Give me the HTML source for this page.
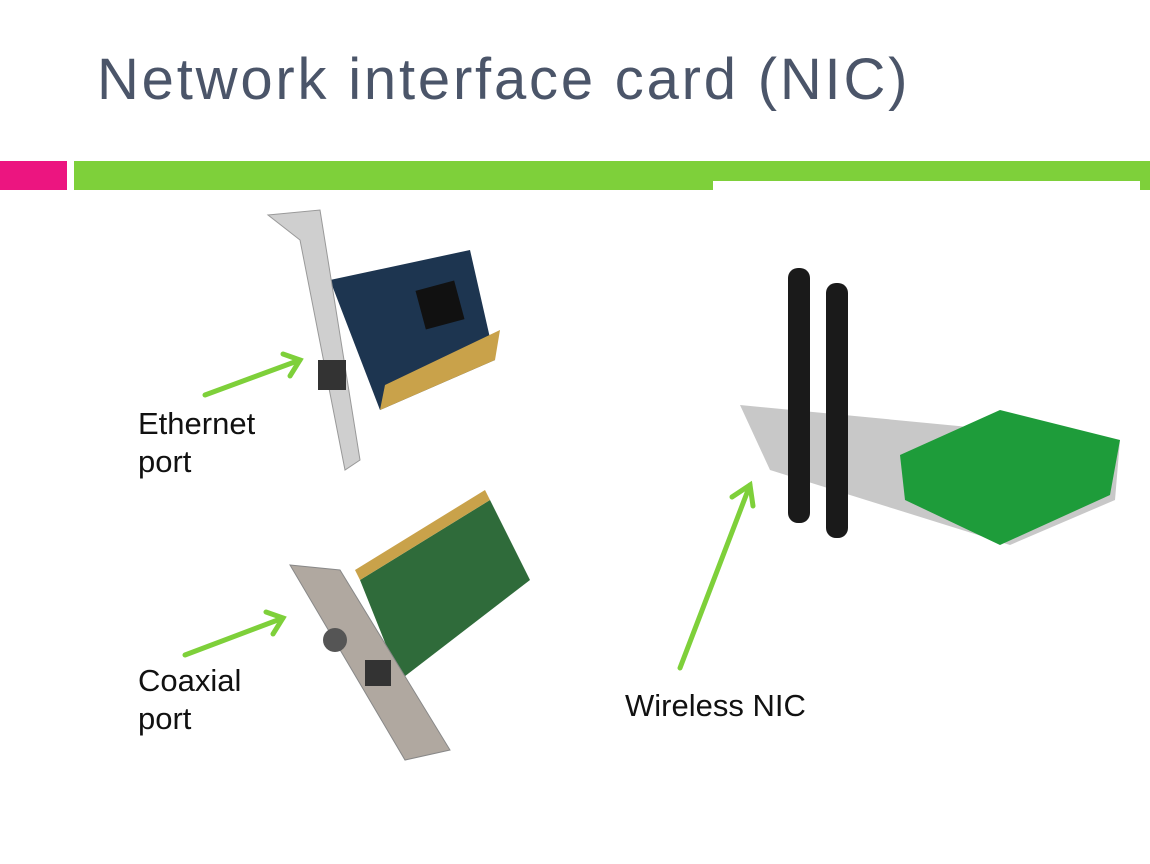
<!DOCTYPE html>
<html><head><style>
body{margin:0;width:1150px;height:864px;background:#fff;overflow:hidden;position:relative;font-family:"Liberation Sans",sans-serif}
.t{position:absolute;left:97px;top:46px;font-size:58px;color:#4b5569;white-space:nowrap;letter-spacing:2.8px}
.l{position:absolute;font-size:31px;color:#111;line-height:38px}
</style></head><body>
<div class="t">Network interface card (NIC)</div>
<svg width="1150" height="864" style="position:absolute;left:0;top:0">
<rect x="0" y="161" width="67" height="29" fill="#ec1580"/>
<rect x="74" y="161" width="1076" height="29" fill="#7ed03a"/>
<rect x="713" y="181" width="427" height="9" fill="#fff"/>
<polygon points="330,280 470,250 495,360 380,410" fill="#1d3550"/>
<polygon points="380,410 495,360 500,330 385,385" fill="#c9a24a"/>
<rect x="420" y="285" width="40" height="40" fill="#111" transform="rotate(-15 440 305)"/>
<polygon points="268,215 320,210 360,460 345,470 300,240" fill="#cfcfcf" stroke="#999"/>
<rect x="318" y="360" width="28" height="30" fill="#333"/>
<polygon points="360,580 490,500 530,580 400,680" fill="#2f6b3a"/>
<polygon points="360,580 490,500 485,490 355,570" fill="#c9a24a"/>
<polygon points="290,565 340,570 450,750 405,760" fill="#b0a8a0" stroke="#888"/>
<circle cx="335" cy="640" r="12" fill="#555"/>
<rect x="365" y="660" width="26" height="26" fill="#333"/>
<polygon points="740,405 1000,430 1120,440 1115,500 1010,545 770,470" fill="#c8c8c8"/>
<polygon points="900,455 1000,410 1120,440 1110,495 1000,545 905,500" fill="#1e9c3a"/>
<rect x="788" y="268" width="22" height="255" rx="10" fill="#1a1a1a"/>
<rect x="826" y="283" width="22" height="255" rx="10" fill="#1a1a1a"/>
<g stroke="#7ed03a" stroke-width="5" fill="none" stroke-linecap="round">
<line x1="205" y1="395" x2="300" y2="360"/><polyline points="283,354 300,360 290,376"/>
<line x1="185" y1="655" x2="283" y2="618"/><polyline points="266,612 283,618 273,634"/>
<line x1="680" y1="668" x2="750" y2="485"/><polyline points="732,497 750,485 753,506"/>
</g>
</svg>
<div class="l" style="left:138px;top:405px">Ethernet<br>port</div>
<div class="l" style="left:138px;top:662px">Coaxial<br>port</div>
<div class="l" style="left:625px;top:687px">Wireless NIC</div>
</body></html>
